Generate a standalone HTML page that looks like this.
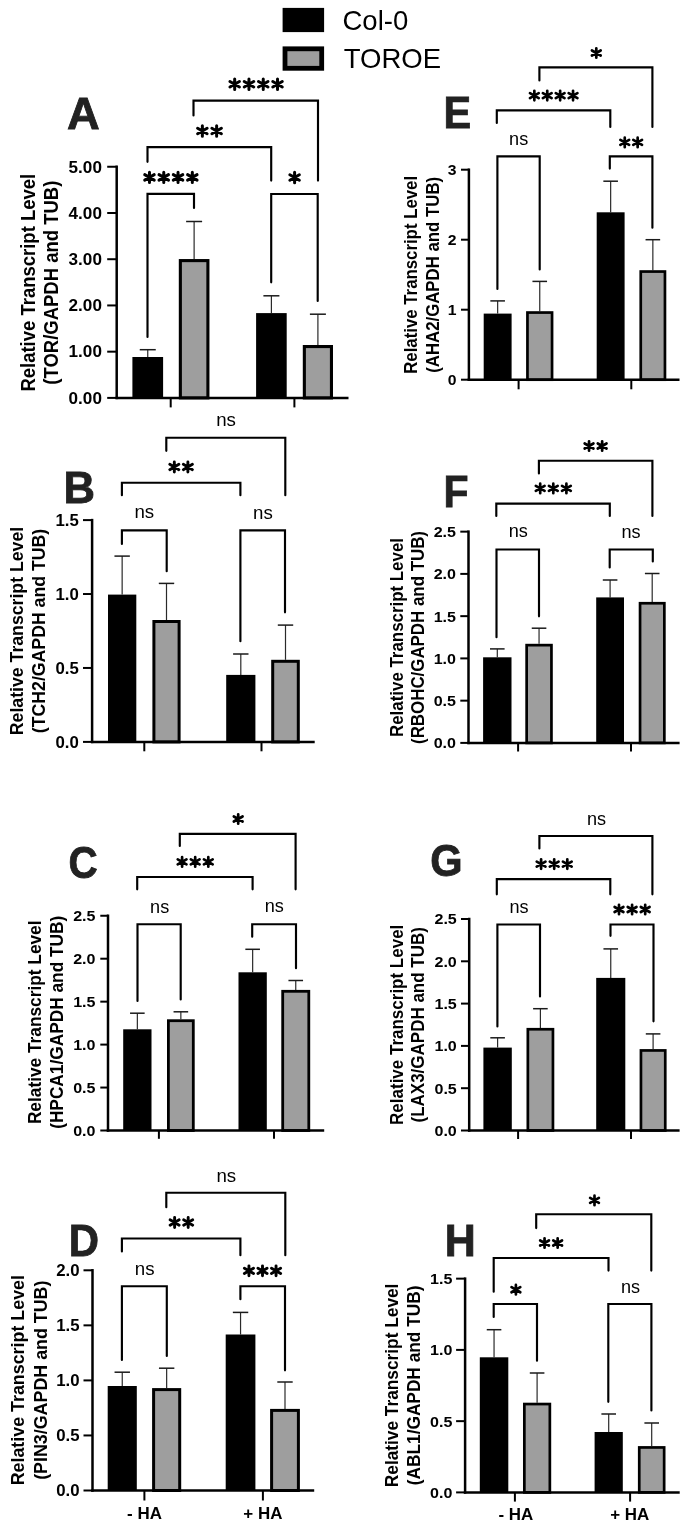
<!DOCTYPE html>
<html><head><meta charset="utf-8"><style>
html,body{margin:0;padding:0;background:#fff;width:685px;height:1528px;overflow:hidden}
svg{display:block;filter:grayscale(1)}
text{font-family:"Liberation Sans",sans-serif}
</style></head><body>
<svg width="685" height="1528" viewBox="0 0 685 1528">
<rect width="685" height="1528" fill="#fff"/>
<path d="M193.50,115.50V100.60H318.00V180.60" stroke="#000" stroke-width="2.15" fill="none" stroke-linejoin="miter" stroke-linecap="round"/>
<path d="M147.50,161.80V147.10H271.20V180.60" stroke="#000" stroke-width="2.15" fill="none" stroke-linejoin="miter" stroke-linecap="round"/>
<path d="M147.50,337.00V193.90H194.00V208.00" stroke="#000" stroke-width="2.15" fill="none" stroke-linejoin="miter" stroke-linecap="round"/>
<path d="M271.20,282.30V194.00H317.70V301.00" stroke="#000" stroke-width="2.15" fill="none" stroke-linejoin="miter" stroke-linecap="round"/>
<line x1="147.75" y1="357.00" x2="147.75" y2="349.70" stroke="#2a2a2a" stroke-width="1.2"/>
<line x1="139.75" y1="349.70" x2="155.75" y2="349.70" stroke="#1a1a1a" stroke-width="1.5"/>
<rect x="132.40" y="357.00" width="30.70" height="40.90" fill="#000"/>
<line x1="194.12" y1="259.05" x2="194.12" y2="221.50" stroke="#2a2a2a" stroke-width="1.2"/>
<line x1="186.12" y1="221.50" x2="202.12" y2="221.50" stroke="#1a1a1a" stroke-width="1.5"/>
<rect x="180.35" y="260.60" width="27.55" height="137.30" fill="#9e9e9e" stroke="#000" stroke-width="3.1"/>
<line x1="271.40" y1="313.10" x2="271.40" y2="295.80" stroke="#2a2a2a" stroke-width="1.2"/>
<line x1="263.40" y1="295.80" x2="279.40" y2="295.80" stroke="#1a1a1a" stroke-width="1.5"/>
<rect x="256.10" y="313.10" width="30.60" height="84.80" fill="#000"/>
<line x1="317.90" y1="345.00" x2="317.90" y2="314.20" stroke="#2a2a2a" stroke-width="1.2"/>
<line x1="309.90" y1="314.20" x2="325.90" y2="314.20" stroke="#1a1a1a" stroke-width="1.5"/>
<rect x="304.35" y="346.55" width="27.10" height="51.35" fill="#9e9e9e" stroke="#000" stroke-width="3.1"/>
<line x1="116.70" y1="165.50" x2="116.70" y2="399.15" stroke="#000" stroke-width="2.5"/>
<line x1="115.45" y1="397.90" x2="348.50" y2="397.90" stroke="#000" stroke-width="2.5"/>
<line x1="107.20" y1="397.90" x2="116.70" y2="397.90" stroke="#000" stroke-width="2.0"/>
<text x="0" y="0" font-size="16.3" font-weight="bold" text-anchor="end" transform="translate(101.90,403.69) scale(1.05,1)">0.00</text>
<line x1="107.20" y1="351.67" x2="116.70" y2="351.67" stroke="#000" stroke-width="2.0"/>
<text x="0" y="0" font-size="16.3" font-weight="bold" text-anchor="end" transform="translate(101.90,357.46) scale(1.05,1)">1.00</text>
<line x1="107.20" y1="305.44" x2="116.70" y2="305.44" stroke="#000" stroke-width="2.0"/>
<text x="0" y="0" font-size="16.3" font-weight="bold" text-anchor="end" transform="translate(101.90,311.23) scale(1.05,1)">2.00</text>
<line x1="107.20" y1="259.21" x2="116.70" y2="259.21" stroke="#000" stroke-width="2.0"/>
<text x="0" y="0" font-size="16.3" font-weight="bold" text-anchor="end" transform="translate(101.90,265.00) scale(1.05,1)">3.00</text>
<line x1="107.20" y1="212.98" x2="116.70" y2="212.98" stroke="#000" stroke-width="2.0"/>
<text x="0" y="0" font-size="16.3" font-weight="bold" text-anchor="end" transform="translate(101.90,218.77) scale(1.05,1)">4.00</text>
<line x1="107.20" y1="166.75" x2="116.70" y2="166.75" stroke="#000" stroke-width="2.0"/>
<text x="0" y="0" font-size="16.3" font-weight="bold" text-anchor="end" transform="translate(101.90,172.54) scale(1.05,1)">5.00</text>
<line x1="170.70" y1="397.90" x2="170.70" y2="407.40" stroke="#000" stroke-width="2.0"/>
<line x1="294.40" y1="397.90" x2="294.40" y2="407.40" stroke="#000" stroke-width="2.0"/>
<path d="M234.68,79.10V89.40M229.93,81.51L239.43,86.99M229.93,86.99L239.43,81.51" stroke="#000" stroke-width="3.0" stroke-linecap="round" fill="none"/>
<path d="M248.96,79.10V89.40M244.21,81.51L253.71,86.99M244.21,86.99L253.71,81.51" stroke="#000" stroke-width="3.0" stroke-linecap="round" fill="none"/>
<path d="M263.24,79.10V89.40M258.49,81.51L267.99,86.99M258.49,86.99L267.99,81.51" stroke="#000" stroke-width="3.0" stroke-linecap="round" fill="none"/>
<path d="M277.52,79.10V89.40M272.77,81.51L282.27,86.99M272.77,86.99L282.27,81.51" stroke="#000" stroke-width="3.0" stroke-linecap="round" fill="none"/>
<path d="M202.36,125.85V136.15M197.61,128.26L207.11,133.74M197.61,133.74L207.11,128.26" stroke="#000" stroke-width="3.0" stroke-linecap="round" fill="none"/>
<path d="M216.64,125.85V136.15M211.89,128.26L221.39,133.74M211.89,133.74L221.39,128.26" stroke="#000" stroke-width="3.0" stroke-linecap="round" fill="none"/>
<path d="M149.48,172.25V182.55M144.73,174.66L154.23,180.14M144.73,180.14L154.23,174.66" stroke="#000" stroke-width="3.0" stroke-linecap="round" fill="none"/>
<path d="M163.76,172.25V182.55M159.01,174.66L168.51,180.14M159.01,180.14L168.51,174.66" stroke="#000" stroke-width="3.0" stroke-linecap="round" fill="none"/>
<path d="M178.04,172.25V182.55M173.29,174.66L182.79,180.14M173.29,180.14L182.79,174.66" stroke="#000" stroke-width="3.0" stroke-linecap="round" fill="none"/>
<path d="M192.32,172.25V182.55M187.57,174.66L197.07,180.14M187.57,180.14L197.07,174.66" stroke="#000" stroke-width="3.0" stroke-linecap="round" fill="none"/>
<path d="M294.60,172.35V182.65M289.85,174.76L299.35,180.24M289.85,180.24L299.35,174.76" stroke="#000" stroke-width="3.0" stroke-linecap="round" fill="none"/>
<text x="0" y="0" font-size="44.3" font-weight="bold" fill="#222" stroke="#222" stroke-width="0.8" transform="translate(67.08,128.80) scale(1.023,1)">A</text>
<text x="0.00" y="0.00" font-size="18.5" font-weight="bold" text-anchor="middle" transform="translate(34.50,282.70) rotate(-90) scale(1,1.05)">Relative Transcript Level</text>
<text x="0.00" y="0.00" font-size="18.5" font-weight="bold" text-anchor="middle" transform="translate(57.70,282.70) rotate(-90) scale(1,1.05)">(TOR/GAPDH and TUB)</text>
<path d="M166.30,450.80V437.70H285.30V495.20" stroke="#000" stroke-width="2.15" fill="none" stroke-linejoin="miter" stroke-linecap="round"/>
<path d="M121.90,495.20V482.70H240.40V495.20" stroke="#000" stroke-width="2.15" fill="none" stroke-linejoin="miter" stroke-linecap="round"/>
<path d="M121.90,543.90V530.40H166.70V571.20" stroke="#000" stroke-width="2.15" fill="none" stroke-linejoin="miter" stroke-linecap="round"/>
<path d="M240.40,641.20V530.40H285.00V612.30" stroke="#000" stroke-width="2.15" fill="none" stroke-linejoin="miter" stroke-linecap="round"/>
<line x1="122.15" y1="594.60" x2="122.15" y2="556.10" stroke="#2a2a2a" stroke-width="1.2"/>
<line x1="114.45" y1="556.10" x2="129.85" y2="556.10" stroke="#1a1a1a" stroke-width="1.5"/>
<rect x="108.00" y="594.60" width="28.30" height="147.30" fill="#000"/>
<line x1="166.50" y1="620.00" x2="166.50" y2="583.40" stroke="#2a2a2a" stroke-width="1.2"/>
<line x1="158.80" y1="583.40" x2="174.20" y2="583.40" stroke="#1a1a1a" stroke-width="1.5"/>
<rect x="153.90" y="621.50" width="25.20" height="120.40" fill="#9e9e9e" stroke="#000" stroke-width="3.0"/>
<line x1="240.80" y1="674.90" x2="240.80" y2="654.00" stroke="#2a2a2a" stroke-width="1.2"/>
<line x1="233.10" y1="654.00" x2="248.50" y2="654.00" stroke="#1a1a1a" stroke-width="1.5"/>
<rect x="226.20" y="674.90" width="29.20" height="67.00" fill="#000"/>
<line x1="285.50" y1="659.80" x2="285.50" y2="625.10" stroke="#2a2a2a" stroke-width="1.2"/>
<line x1="277.80" y1="625.10" x2="293.20" y2="625.10" stroke="#1a1a1a" stroke-width="1.5"/>
<rect x="272.70" y="661.30" width="25.60" height="80.60" fill="#9e9e9e" stroke="#000" stroke-width="3.0"/>
<line x1="92.10" y1="518.85" x2="92.10" y2="743.15" stroke="#000" stroke-width="2.5"/>
<line x1="90.85" y1="741.90" x2="314.70" y2="741.90" stroke="#000" stroke-width="2.5"/>
<line x1="83.00" y1="741.90" x2="92.10" y2="741.90" stroke="#000" stroke-width="2.0"/>
<text x="0" y="0" font-size="16" font-weight="bold" text-anchor="end" transform="translate(78.80,747.58) scale(1.05,1)">0.0</text>
<line x1="83.00" y1="667.96" x2="92.10" y2="667.96" stroke="#000" stroke-width="2.0"/>
<text x="0" y="0" font-size="16" font-weight="bold" text-anchor="end" transform="translate(78.80,673.64) scale(1.05,1)">0.5</text>
<line x1="83.00" y1="594.03" x2="92.10" y2="594.03" stroke="#000" stroke-width="2.0"/>
<text x="0" y="0" font-size="16" font-weight="bold" text-anchor="end" transform="translate(78.80,599.71) scale(1.05,1)">1.0</text>
<line x1="83.00" y1="520.10" x2="92.10" y2="520.10" stroke="#000" stroke-width="2.0"/>
<text x="0" y="0" font-size="16" font-weight="bold" text-anchor="end" transform="translate(78.80,525.77) scale(1.05,1)">1.5</text>
<line x1="144.30" y1="741.90" x2="144.30" y2="751.30" stroke="#000" stroke-width="2.0"/>
<line x1="261.50" y1="741.90" x2="261.50" y2="751.30" stroke="#000" stroke-width="2.0"/>
<text x="226.10" y="426.30" font-size="18.7" font-weight="normal" text-anchor="middle" >ns</text>
<path d="M174.32,462.05V471.95M169.76,464.36L178.89,469.64M169.76,469.64L178.89,464.36" stroke="#000" stroke-width="2.9" stroke-linecap="round" fill="none"/>
<path d="M187.88,462.05V471.95M183.31,464.36L192.44,469.64M183.31,469.64L192.44,464.36" stroke="#000" stroke-width="2.9" stroke-linecap="round" fill="none"/>
<text x="144.25" y="518.40" font-size="18.7" font-weight="normal" text-anchor="middle" >ns</text>
<text x="262.90" y="518.50" font-size="18.7" font-weight="normal" text-anchor="middle" >ns</text>
<text x="0" y="0" font-size="44.3" font-weight="bold" fill="#222" stroke="#222" stroke-width="0.8" transform="translate(63.45,502.60) scale(0.985,1)">B</text>
<text x="0.00" y="0.00" font-size="17.7" font-weight="bold" text-anchor="middle" transform="translate(23.00,631.00) rotate(-90) scale(1,1.05)">Relative Transcript Level</text>
<text x="0.00" y="0.00" font-size="17.7" font-weight="bold" text-anchor="middle" transform="translate(45.00,631.00) rotate(-90) scale(1,1.05)">(TCH2/GAPDH and TUB)</text>
<path d="M179.80,845.90V833.90H295.60V889.30" stroke="#000" stroke-width="2.15" fill="none" stroke-linejoin="miter" stroke-linecap="round"/>
<path d="M137.20,889.30V877.00H252.60V889.30" stroke="#000" stroke-width="2.15" fill="none" stroke-linejoin="miter" stroke-linecap="round"/>
<path d="M137.50,1001.00V924.20H180.70V999.50" stroke="#000" stroke-width="2.15" fill="none" stroke-linejoin="miter" stroke-linecap="round"/>
<path d="M252.20,936.70V924.20H296.00V968.20" stroke="#000" stroke-width="2.15" fill="none" stroke-linejoin="miter" stroke-linecap="round"/>
<line x1="137.35" y1="1029.30" x2="137.35" y2="1013.20" stroke="#2a2a2a" stroke-width="1.2"/>
<line x1="130.05" y1="1013.20" x2="144.65" y2="1013.20" stroke="#1a1a1a" stroke-width="1.5"/>
<rect x="123.20" y="1029.30" width="28.30" height="101.20" fill="#000"/>
<line x1="180.85" y1="1019.30" x2="180.85" y2="1011.80" stroke="#2a2a2a" stroke-width="1.2"/>
<line x1="173.55" y1="1011.80" x2="188.15" y2="1011.80" stroke="#1a1a1a" stroke-width="1.5"/>
<rect x="168.40" y="1020.70" width="24.90" height="109.80" fill="#9e9e9e" stroke="#000" stroke-width="2.8"/>
<line x1="252.65" y1="972.30" x2="252.65" y2="949.30" stroke="#2a2a2a" stroke-width="1.2"/>
<line x1="245.35" y1="949.30" x2="259.95" y2="949.30" stroke="#1a1a1a" stroke-width="1.5"/>
<rect x="238.50" y="972.30" width="28.30" height="158.20" fill="#000"/>
<line x1="295.75" y1="989.90" x2="295.75" y2="980.50" stroke="#2a2a2a" stroke-width="1.2"/>
<line x1="288.45" y1="980.50" x2="303.05" y2="980.50" stroke="#1a1a1a" stroke-width="1.5"/>
<rect x="282.70" y="991.30" width="26.10" height="139.20" fill="#9e9e9e" stroke="#000" stroke-width="2.8"/>
<line x1="108.00" y1="914.50" x2="108.00" y2="1131.75" stroke="#000" stroke-width="2.5"/>
<line x1="106.75" y1="1130.50" x2="324.20" y2="1130.50" stroke="#000" stroke-width="2.5"/>
<line x1="100.30" y1="1130.50" x2="108.00" y2="1130.50" stroke="#000" stroke-width="2.0"/>
<text x="0" y="0" font-size="15.3" font-weight="bold" text-anchor="end" transform="translate(95.50,1135.93) scale(1.05,1)">0.0</text>
<line x1="100.30" y1="1087.55" x2="108.00" y2="1087.55" stroke="#000" stroke-width="2.0"/>
<text x="0" y="0" font-size="15.3" font-weight="bold" text-anchor="end" transform="translate(95.50,1092.98) scale(1.05,1)">0.5</text>
<line x1="100.30" y1="1044.60" x2="108.00" y2="1044.60" stroke="#000" stroke-width="2.0"/>
<text x="0" y="0" font-size="15.3" font-weight="bold" text-anchor="end" transform="translate(95.50,1050.03) scale(1.05,1)">1.0</text>
<line x1="100.30" y1="1001.65" x2="108.00" y2="1001.65" stroke="#000" stroke-width="2.0"/>
<text x="0" y="0" font-size="15.3" font-weight="bold" text-anchor="end" transform="translate(95.50,1007.08) scale(1.05,1)">1.5</text>
<line x1="100.30" y1="958.70" x2="108.00" y2="958.70" stroke="#000" stroke-width="2.0"/>
<text x="0" y="0" font-size="15.3" font-weight="bold" text-anchor="end" transform="translate(95.50,964.13) scale(1.05,1)">2.0</text>
<line x1="100.30" y1="915.75" x2="108.00" y2="915.75" stroke="#000" stroke-width="2.0"/>
<text x="0" y="0" font-size="15.3" font-weight="bold" text-anchor="end" transform="translate(95.50,921.18) scale(1.05,1)">2.5</text>
<line x1="158.90" y1="1130.50" x2="158.90" y2="1138.80" stroke="#000" stroke-width="2.0"/>
<line x1="274.00" y1="1130.50" x2="274.00" y2="1138.80" stroke="#000" stroke-width="2.0"/>
<path d="M238.20,814.25V823.75M233.82,816.47L242.58,821.53M233.82,821.53L242.58,816.47" stroke="#000" stroke-width="2.7" stroke-linecap="round" fill="none"/>
<path d="M182.10,857.15V866.65M177.72,859.37L186.48,864.43M177.72,864.43L186.48,859.37" stroke="#000" stroke-width="2.7" stroke-linecap="round" fill="none"/>
<path d="M195.20,857.15V866.65M190.82,859.37L199.58,864.43M190.82,864.43L199.58,859.37" stroke="#000" stroke-width="2.7" stroke-linecap="round" fill="none"/>
<path d="M208.30,857.15V866.65M203.92,859.37L212.68,864.43M203.92,864.43L212.68,859.37" stroke="#000" stroke-width="2.7" stroke-linecap="round" fill="none"/>
<text x="159.65" y="912.50" font-size="18.1" font-weight="normal" text-anchor="middle" >ns</text>
<text x="274.30" y="911.90" font-size="18.1" font-weight="normal" text-anchor="middle" >ns</text>
<text x="0" y="0" font-size="44.3" font-weight="bold" fill="#222" stroke="#222" stroke-width="0.8" transform="translate(68.59,878.00) scale(0.913,1)">C</text>
<text x="0.00" y="0.00" font-size="17.3" font-weight="bold" text-anchor="middle" transform="translate(41.00,1022.30) rotate(-90) scale(1,1.05)">Relative Transcript Level</text>
<text x="0.00" y="0.00" font-size="17.3" font-weight="bold" text-anchor="middle" transform="translate(63.00,1022.30) rotate(-90) scale(1,1.05)">(HPCA1/GAPDH and TUB)</text>
<path d="M166.30,1207.20V1192.70H285.30V1255.20" stroke="#000" stroke-width="2.15" fill="none" stroke-linejoin="miter" stroke-linecap="round"/>
<path d="M121.90,1251.50V1238.50H240.40V1255.20" stroke="#000" stroke-width="2.15" fill="none" stroke-linejoin="miter" stroke-linecap="round"/>
<path d="M121.90,1359.90V1286.20H166.80V1355.90" stroke="#000" stroke-width="2.15" fill="none" stroke-linejoin="miter" stroke-linecap="round"/>
<path d="M240.40,1299.20V1286.20H285.00V1370.30" stroke="#000" stroke-width="2.15" fill="none" stroke-linejoin="miter" stroke-linecap="round"/>
<line x1="122.25" y1="1386.00" x2="122.25" y2="1372.20" stroke="#2a2a2a" stroke-width="1.2"/>
<line x1="114.55" y1="1372.20" x2="129.95" y2="1372.20" stroke="#1a1a1a" stroke-width="1.5"/>
<rect x="107.70" y="1386.00" width="29.10" height="104.50" fill="#000"/>
<line x1="166.65" y1="1388.10" x2="166.65" y2="1368.20" stroke="#2a2a2a" stroke-width="1.2"/>
<line x1="158.95" y1="1368.20" x2="174.35" y2="1368.20" stroke="#1a1a1a" stroke-width="1.5"/>
<rect x="153.60" y="1389.60" width="26.10" height="100.90" fill="#9e9e9e" stroke="#000" stroke-width="3.0"/>
<line x1="240.55" y1="1334.50" x2="240.55" y2="1312.40" stroke="#2a2a2a" stroke-width="1.2"/>
<line x1="232.85" y1="1312.40" x2="248.25" y2="1312.40" stroke="#1a1a1a" stroke-width="1.5"/>
<rect x="225.70" y="1334.50" width="29.70" height="156.00" fill="#000"/>
<line x1="285.00" y1="1408.90" x2="285.00" y2="1382.00" stroke="#2a2a2a" stroke-width="1.2"/>
<line x1="277.30" y1="1382.00" x2="292.70" y2="1382.00" stroke="#1a1a1a" stroke-width="1.5"/>
<rect x="271.60" y="1410.40" width="26.80" height="80.10" fill="#9e9e9e" stroke="#000" stroke-width="3.0"/>
<line x1="92.50" y1="1269.05" x2="92.50" y2="1491.75" stroke="#000" stroke-width="2.5"/>
<line x1="91.25" y1="1490.50" x2="314.20" y2="1490.50" stroke="#000" stroke-width="2.5"/>
<line x1="83.50" y1="1490.50" x2="92.50" y2="1490.50" stroke="#000" stroke-width="2.0"/>
<text x="0" y="0" font-size="16" font-weight="bold" text-anchor="end" transform="translate(79.50,1496.18) scale(1.05,1)">0.0</text>
<line x1="83.50" y1="1435.45" x2="92.50" y2="1435.45" stroke="#000" stroke-width="2.0"/>
<text x="0" y="0" font-size="16" font-weight="bold" text-anchor="end" transform="translate(79.50,1441.13) scale(1.05,1)">0.5</text>
<line x1="83.50" y1="1380.40" x2="92.50" y2="1380.40" stroke="#000" stroke-width="2.0"/>
<text x="0" y="0" font-size="16" font-weight="bold" text-anchor="end" transform="translate(79.50,1386.08) scale(1.05,1)">1.0</text>
<line x1="83.50" y1="1325.35" x2="92.50" y2="1325.35" stroke="#000" stroke-width="2.0"/>
<text x="0" y="0" font-size="16" font-weight="bold" text-anchor="end" transform="translate(79.50,1331.03) scale(1.05,1)">1.5</text>
<line x1="83.50" y1="1270.30" x2="92.50" y2="1270.30" stroke="#000" stroke-width="2.0"/>
<text x="0" y="0" font-size="16" font-weight="bold" text-anchor="end" transform="translate(79.50,1275.98) scale(1.05,1)">2.0</text>
<line x1="144.40" y1="1490.50" x2="144.40" y2="1500.50" stroke="#000" stroke-width="2.0"/>
<line x1="262.90" y1="1490.50" x2="262.90" y2="1500.50" stroke="#000" stroke-width="2.0"/>
<text x="226.25" y="1182.10" font-size="18.7" font-weight="normal" text-anchor="middle" >ns</text>
<path d="M174.62,1217.55V1227.45M170.06,1219.86L179.19,1225.14M170.06,1225.14L179.19,1219.86" stroke="#000" stroke-width="2.9" stroke-linecap="round" fill="none"/>
<path d="M188.18,1217.55V1227.45M183.61,1219.86L192.74,1225.14M183.61,1225.14L192.74,1219.86" stroke="#000" stroke-width="2.9" stroke-linecap="round" fill="none"/>
<text x="144.70" y="1274.60" font-size="18.7" font-weight="normal" text-anchor="middle" >ns</text>
<path d="M248.95,1265.85V1275.75M244.38,1268.16L253.52,1273.44M244.38,1273.44L253.52,1268.16" stroke="#000" stroke-width="2.9" stroke-linecap="round" fill="none"/>
<path d="M262.50,1265.85V1275.75M257.93,1268.16L267.07,1273.44M257.93,1273.44L267.07,1268.16" stroke="#000" stroke-width="2.9" stroke-linecap="round" fill="none"/>
<path d="M276.05,1265.85V1275.75M271.48,1268.16L280.62,1273.44M271.48,1273.44L280.62,1268.16" stroke="#000" stroke-width="2.9" stroke-linecap="round" fill="none"/>
<text x="0" y="0" font-size="44.3" font-weight="bold" fill="#222" stroke="#222" stroke-width="0.8" transform="translate(68.66,1255.90) scale(0.946,1)">D</text>
<text x="0.00" y="0.00" font-size="17.85" font-weight="bold" text-anchor="middle" transform="translate(23.50,1380.20) rotate(-90) scale(1,1.05)">Relative Transcript Level</text>
<text x="0.00" y="0.00" font-size="17.85" font-weight="bold" text-anchor="middle" transform="translate(47.30,1380.20) rotate(-90) scale(1,1.05)">(PIN3/GAPDH and TUB)</text>
<text x="0" y="0" font-size="16" font-weight="bold" text-anchor="middle" transform="translate(144.50,1519.30) scale(1.06,1)">- HA</text>
<text x="0" y="0" font-size="16" font-weight="bold" text-anchor="middle" transform="translate(262.90,1519.30) scale(1.06,1)">+ HA</text>
<path d="M539.40,80.50V67.30H652.40V127.00" stroke="#000" stroke-width="2.15" fill="none" stroke-linejoin="miter" stroke-linecap="round"/>
<path d="M496.80,123.00V110.40H610.30V127.00" stroke="#000" stroke-width="2.15" fill="none" stroke-linejoin="miter" stroke-linecap="round"/>
<path d="M497.40,288.90V156.30H539.70V269.50" stroke="#000" stroke-width="2.15" fill="none" stroke-linejoin="miter" stroke-linecap="round"/>
<path d="M609.80,168.60V156.30H652.40V227.70" stroke="#000" stroke-width="2.15" fill="none" stroke-linejoin="miter" stroke-linecap="round"/>
<line x1="497.65" y1="313.60" x2="497.65" y2="300.90" stroke="#2a2a2a" stroke-width="1.2"/>
<line x1="490.35" y1="300.90" x2="504.95" y2="300.90" stroke="#1a1a1a" stroke-width="1.5"/>
<rect x="483.70" y="313.60" width="27.90" height="66.10" fill="#000"/>
<line x1="539.75" y1="311.20" x2="539.75" y2="281.40" stroke="#2a2a2a" stroke-width="1.2"/>
<line x1="532.45" y1="281.40" x2="547.05" y2="281.40" stroke="#1a1a1a" stroke-width="1.5"/>
<rect x="527.45" y="312.55" width="24.60" height="67.15" fill="#9e9e9e" stroke="#000" stroke-width="2.7"/>
<line x1="610.65" y1="212.30" x2="610.65" y2="181.20" stroke="#2a2a2a" stroke-width="1.2"/>
<line x1="603.35" y1="181.20" x2="617.95" y2="181.20" stroke="#1a1a1a" stroke-width="1.5"/>
<rect x="596.70" y="212.30" width="27.90" height="167.40" fill="#000"/>
<line x1="652.85" y1="270.20" x2="652.85" y2="239.70" stroke="#2a2a2a" stroke-width="1.2"/>
<line x1="645.55" y1="239.70" x2="660.15" y2="239.70" stroke="#1a1a1a" stroke-width="1.5"/>
<rect x="640.75" y="271.55" width="24.20" height="108.15" fill="#9e9e9e" stroke="#000" stroke-width="2.7"/>
<line x1="468.90" y1="168.45" x2="468.90" y2="380.95" stroke="#000" stroke-width="2.5"/>
<line x1="467.65" y1="379.70" x2="679.50" y2="379.70" stroke="#000" stroke-width="2.5"/>
<line x1="461.00" y1="379.70" x2="468.90" y2="379.70" stroke="#000" stroke-width="2.0"/>
<text x="0" y="0" font-size="15" font-weight="bold" text-anchor="end" transform="translate(456.60,385.02) scale(1.05,1)">0</text>
<line x1="461.00" y1="309.70" x2="468.90" y2="309.70" stroke="#000" stroke-width="2.0"/>
<text x="0" y="0" font-size="15" font-weight="bold" text-anchor="end" transform="translate(456.60,315.02) scale(1.05,1)">1</text>
<line x1="461.00" y1="239.70" x2="468.90" y2="239.70" stroke="#000" stroke-width="2.0"/>
<text x="0" y="0" font-size="15" font-weight="bold" text-anchor="end" transform="translate(456.60,245.02) scale(1.05,1)">2</text>
<line x1="461.00" y1="169.70" x2="468.90" y2="169.70" stroke="#000" stroke-width="2.0"/>
<text x="0" y="0" font-size="15" font-weight="bold" text-anchor="end" transform="translate(456.60,175.02) scale(1.05,1)">3</text>
<line x1="518.60" y1="379.70" x2="518.60" y2="389.30" stroke="#000" stroke-width="2.0"/>
<line x1="631.30" y1="379.70" x2="631.30" y2="389.30" stroke="#000" stroke-width="2.0"/>
<path d="M596.30,48.25V57.75M591.92,50.47L600.68,55.53M591.92,55.53L600.68,50.47" stroke="#000" stroke-width="2.7" stroke-linecap="round" fill="none"/>
<path d="M534.35,90.85V100.35M529.97,93.07L538.73,98.13M529.97,98.13L538.73,93.07" stroke="#000" stroke-width="2.7" stroke-linecap="round" fill="none"/>
<path d="M547.25,90.85V100.35M542.87,93.07L551.63,98.13M542.87,98.13L551.63,93.07" stroke="#000" stroke-width="2.7" stroke-linecap="round" fill="none"/>
<path d="M560.15,90.85V100.35M555.77,93.07L564.53,98.13M555.77,98.13L564.53,93.07" stroke="#000" stroke-width="2.7" stroke-linecap="round" fill="none"/>
<path d="M573.05,90.85V100.35M568.67,93.07L577.43,98.13M568.67,98.13L577.43,93.07" stroke="#000" stroke-width="2.7" stroke-linecap="round" fill="none"/>
<text x="518.65" y="144.80" font-size="18.1" font-weight="normal" text-anchor="middle" >ns</text>
<path d="M624.75,137.65V147.15M620.37,139.87L629.13,144.93M620.37,144.93L629.13,139.87" stroke="#000" stroke-width="2.7" stroke-linecap="round" fill="none"/>
<path d="M637.65,137.65V147.15M633.27,139.87L642.03,144.93M633.27,144.93L642.03,139.87" stroke="#000" stroke-width="2.7" stroke-linecap="round" fill="none"/>
<text x="0" y="0" font-size="44.3" font-weight="bold" fill="#222" stroke="#222" stroke-width="0.8" transform="translate(443.39,127.50) scale(0.936,1)">E</text>
<text x="0.00" y="0.00" font-size="16.8" font-weight="bold" text-anchor="middle" transform="translate(417.00,274.85) rotate(-90) scale(1,1.05)">Relative Transcript Level</text>
<text x="0.00" y="0.00" font-size="16.8" font-weight="bold" text-anchor="middle" transform="translate(439.00,274.85) rotate(-90) scale(1,1.05)">(AHA2/GAPDH and TUB)</text>
<path d="M538.90,473.40V460.70H652.40V515.90" stroke="#000" stroke-width="2.15" fill="none" stroke-linejoin="miter" stroke-linecap="round"/>
<path d="M496.30,515.90V503.60H609.80V515.90" stroke="#000" stroke-width="2.15" fill="none" stroke-linejoin="miter" stroke-linecap="round"/>
<path d="M496.50,637.20V549.50H539.00V616.30" stroke="#000" stroke-width="2.15" fill="none" stroke-linejoin="miter" stroke-linecap="round"/>
<path d="M609.70,567.50V549.50H652.80V561.50" stroke="#000" stroke-width="2.15" fill="none" stroke-linejoin="miter" stroke-linecap="round"/>
<line x1="497.30" y1="657.30" x2="497.30" y2="648.90" stroke="#2a2a2a" stroke-width="1.2"/>
<line x1="490.00" y1="648.90" x2="504.60" y2="648.90" stroke="#1a1a1a" stroke-width="1.5"/>
<rect x="483.10" y="657.30" width="28.40" height="85.60" fill="#000"/>
<line x1="539.05" y1="643.80" x2="539.05" y2="628.20" stroke="#2a2a2a" stroke-width="1.2"/>
<line x1="531.75" y1="628.20" x2="546.35" y2="628.20" stroke="#1a1a1a" stroke-width="1.5"/>
<rect x="526.65" y="645.15" width="24.80" height="97.75" fill="#9e9e9e" stroke="#000" stroke-width="2.7"/>
<line x1="610.10" y1="597.40" x2="610.10" y2="580.00" stroke="#2a2a2a" stroke-width="1.2"/>
<line x1="602.80" y1="580.00" x2="617.40" y2="580.00" stroke="#1a1a1a" stroke-width="1.5"/>
<rect x="596.20" y="597.40" width="27.80" height="145.50" fill="#000"/>
<line x1="652.20" y1="601.90" x2="652.20" y2="573.50" stroke="#2a2a2a" stroke-width="1.2"/>
<line x1="644.90" y1="573.50" x2="659.50" y2="573.50" stroke="#1a1a1a" stroke-width="1.5"/>
<rect x="640.05" y="603.25" width="24.30" height="139.65" fill="#9e9e9e" stroke="#000" stroke-width="2.7"/>
<line x1="468.50" y1="530.40" x2="468.50" y2="744.15" stroke="#000" stroke-width="2.5"/>
<line x1="467.25" y1="742.90" x2="679.60" y2="742.90" stroke="#000" stroke-width="2.5"/>
<line x1="460.30" y1="742.90" x2="468.50" y2="742.90" stroke="#000" stroke-width="2.0"/>
<text x="0" y="0" font-size="15.3" font-weight="bold" text-anchor="end" transform="translate(456.00,748.33) scale(1.05,1)">0.0</text>
<line x1="460.30" y1="700.65" x2="468.50" y2="700.65" stroke="#000" stroke-width="2.0"/>
<text x="0" y="0" font-size="15.3" font-weight="bold" text-anchor="end" transform="translate(456.00,706.08) scale(1.05,1)">0.5</text>
<line x1="460.30" y1="658.40" x2="468.50" y2="658.40" stroke="#000" stroke-width="2.0"/>
<text x="0" y="0" font-size="15.3" font-weight="bold" text-anchor="end" transform="translate(456.00,663.83) scale(1.05,1)">1.0</text>
<line x1="460.30" y1="616.15" x2="468.50" y2="616.15" stroke="#000" stroke-width="2.0"/>
<text x="0" y="0" font-size="15.3" font-weight="bold" text-anchor="end" transform="translate(456.00,621.58) scale(1.05,1)">1.5</text>
<line x1="460.30" y1="573.90" x2="468.50" y2="573.90" stroke="#000" stroke-width="2.0"/>
<text x="0" y="0" font-size="15.3" font-weight="bold" text-anchor="end" transform="translate(456.00,579.33) scale(1.05,1)">2.0</text>
<line x1="460.30" y1="531.65" x2="468.50" y2="531.65" stroke="#000" stroke-width="2.0"/>
<text x="0" y="0" font-size="15.3" font-weight="bold" text-anchor="end" transform="translate(456.00,537.08) scale(1.05,1)">2.5</text>
<line x1="518.10" y1="742.90" x2="518.10" y2="751.50" stroke="#000" stroke-width="2.0"/>
<line x1="631.00" y1="742.90" x2="631.00" y2="751.50" stroke="#000" stroke-width="2.0"/>
<path d="M589.05,441.25V450.75M584.67,443.47L593.43,448.53M584.67,448.53L593.43,443.47" stroke="#000" stroke-width="2.7" stroke-linecap="round" fill="none"/>
<path d="M602.15,441.25V450.75M597.77,443.47L606.53,448.53M597.77,448.53L606.53,443.47" stroke="#000" stroke-width="2.7" stroke-linecap="round" fill="none"/>
<path d="M540.20,483.65V493.15M535.82,485.87L544.58,490.93M535.82,490.93L544.58,485.87" stroke="#000" stroke-width="2.7" stroke-linecap="round" fill="none"/>
<path d="M553.30,483.65V493.15M548.92,485.87L557.68,490.93M548.92,490.93L557.68,485.87" stroke="#000" stroke-width="2.7" stroke-linecap="round" fill="none"/>
<path d="M566.40,483.65V493.15M562.02,485.87L570.78,490.93M562.02,490.93L570.78,485.87" stroke="#000" stroke-width="2.7" stroke-linecap="round" fill="none"/>
<text x="518.20" y="537.40" font-size="18.1" font-weight="normal" text-anchor="middle" >ns</text>
<text x="631.00" y="537.80" font-size="18.1" font-weight="normal" text-anchor="middle" >ns</text>
<text x="0" y="0" font-size="44.3" font-weight="bold" fill="#222" stroke="#222" stroke-width="0.8" transform="translate(443.42,506.60) scale(0.926,1)">F</text>
<text x="0.00" y="0.00" font-size="16.9" font-weight="bold" text-anchor="middle" transform="translate(403.00,637.50) rotate(-90) scale(1,1.05)">Relative Transcript Level</text>
<text x="0.00" y="0.00" font-size="16.9" font-weight="bold" text-anchor="middle" transform="translate(423.50,637.50) rotate(-90) scale(1,1.05)">(RBOHC/GAPDH and TUB)</text>
<path d="M539.40,848.40V836.00H652.40V894.30" stroke="#000" stroke-width="2.15" fill="none" stroke-linejoin="miter" stroke-linecap="round"/>
<path d="M496.80,894.30V879.10H610.30V894.30" stroke="#000" stroke-width="2.15" fill="none" stroke-linejoin="miter" stroke-linecap="round"/>
<path d="M497.40,1026.40V924.50H540.00V996.40" stroke="#000" stroke-width="2.15" fill="none" stroke-linejoin="miter" stroke-linecap="round"/>
<path d="M610.50,935.80V924.50H653.50V1021.30" stroke="#000" stroke-width="2.15" fill="none" stroke-linejoin="miter" stroke-linecap="round"/>
<line x1="497.60" y1="1047.60" x2="497.60" y2="1037.80" stroke="#2a2a2a" stroke-width="1.2"/>
<line x1="490.30" y1="1037.80" x2="504.90" y2="1037.80" stroke="#1a1a1a" stroke-width="1.5"/>
<rect x="483.40" y="1047.60" width="28.40" height="82.90" fill="#000"/>
<line x1="540.40" y1="1027.90" x2="540.40" y2="1008.70" stroke="#2a2a2a" stroke-width="1.2"/>
<line x1="533.10" y1="1008.70" x2="547.70" y2="1008.70" stroke="#1a1a1a" stroke-width="1.5"/>
<rect x="527.85" y="1029.25" width="25.10" height="101.25" fill="#9e9e9e" stroke="#000" stroke-width="2.7"/>
<line x1="610.75" y1="977.90" x2="610.75" y2="948.90" stroke="#2a2a2a" stroke-width="1.2"/>
<line x1="603.45" y1="948.90" x2="618.05" y2="948.90" stroke="#1a1a1a" stroke-width="1.5"/>
<rect x="596.20" y="977.90" width="29.10" height="152.60" fill="#000"/>
<line x1="653.10" y1="1049.10" x2="653.10" y2="1033.90" stroke="#2a2a2a" stroke-width="1.2"/>
<line x1="645.80" y1="1033.90" x2="660.40" y2="1033.90" stroke="#1a1a1a" stroke-width="1.5"/>
<rect x="640.95" y="1050.45" width="24.30" height="80.05" fill="#9e9e9e" stroke="#000" stroke-width="2.7"/>
<line x1="469.20" y1="917.75" x2="469.20" y2="1131.75" stroke="#000" stroke-width="2.5"/>
<line x1="467.95" y1="1130.50" x2="679.60" y2="1130.50" stroke="#000" stroke-width="2.5"/>
<line x1="461.00" y1="1130.50" x2="469.20" y2="1130.50" stroke="#000" stroke-width="2.0"/>
<text x="0" y="0" font-size="15.3" font-weight="bold" text-anchor="end" transform="translate(456.80,1135.93) scale(1.05,1)">0.0</text>
<line x1="461.00" y1="1088.20" x2="469.20" y2="1088.20" stroke="#000" stroke-width="2.0"/>
<text x="0" y="0" font-size="15.3" font-weight="bold" text-anchor="end" transform="translate(456.80,1093.63) scale(1.05,1)">0.5</text>
<line x1="461.00" y1="1045.90" x2="469.20" y2="1045.90" stroke="#000" stroke-width="2.0"/>
<text x="0" y="0" font-size="15.3" font-weight="bold" text-anchor="end" transform="translate(456.80,1051.33) scale(1.05,1)">1.0</text>
<line x1="461.00" y1="1003.60" x2="469.20" y2="1003.60" stroke="#000" stroke-width="2.0"/>
<text x="0" y="0" font-size="15.3" font-weight="bold" text-anchor="end" transform="translate(456.80,1009.03) scale(1.05,1)">1.5</text>
<line x1="461.00" y1="961.30" x2="469.20" y2="961.30" stroke="#000" stroke-width="2.0"/>
<text x="0" y="0" font-size="15.3" font-weight="bold" text-anchor="end" transform="translate(456.80,966.73) scale(1.05,1)">2.0</text>
<line x1="461.00" y1="919.00" x2="469.20" y2="919.00" stroke="#000" stroke-width="2.0"/>
<text x="0" y="0" font-size="15.3" font-weight="bold" text-anchor="end" transform="translate(456.80,924.43) scale(1.05,1)">2.5</text>
<line x1="518.10" y1="1130.50" x2="518.10" y2="1139.00" stroke="#000" stroke-width="2.0"/>
<line x1="631.00" y1="1130.50" x2="631.00" y2="1139.00" stroke="#000" stroke-width="2.0"/>
<text x="596.55" y="824.60" font-size="18.1" font-weight="normal" text-anchor="middle" >ns</text>
<path d="M541.10,859.35V868.85M536.72,861.57L545.48,866.63M536.72,866.63L545.48,861.57" stroke="#000" stroke-width="2.7" stroke-linecap="round" fill="none"/>
<path d="M554.20,859.35V868.85M549.82,861.57L558.58,866.63M549.82,866.63L558.58,861.57" stroke="#000" stroke-width="2.7" stroke-linecap="round" fill="none"/>
<path d="M567.30,859.35V868.85M562.92,861.57L571.68,866.63M562.92,866.63L571.68,861.57" stroke="#000" stroke-width="2.7" stroke-linecap="round" fill="none"/>
<text x="519.05" y="912.70" font-size="18.1" font-weight="normal" text-anchor="middle" >ns</text>
<path d="M619.00,904.75V914.25M614.62,906.97L623.38,912.03M614.62,912.03L623.38,906.97" stroke="#000" stroke-width="2.7" stroke-linecap="round" fill="none"/>
<path d="M632.10,904.75V914.25M627.72,906.97L636.48,912.03M627.72,912.03L636.48,906.97" stroke="#000" stroke-width="2.7" stroke-linecap="round" fill="none"/>
<path d="M645.20,904.75V914.25M640.82,906.97L649.58,912.03M640.82,912.03L649.58,906.97" stroke="#000" stroke-width="2.7" stroke-linecap="round" fill="none"/>
<text x="0" y="0" font-size="44.3" font-weight="bold" fill="#222" stroke="#222" stroke-width="0.8" transform="translate(430.26,875.60) scale(0.939,1)">G</text>
<text x="0.00" y="0.00" font-size="17.0" font-weight="bold" text-anchor="middle" transform="translate(403.00,1024.80) rotate(-90) scale(1,1.05)">Relative Transcript Level</text>
<text x="0.00" y="0.00" font-size="17.0" font-weight="bold" text-anchor="middle" transform="translate(423.50,1024.80) rotate(-90) scale(1,1.05)">(LAX3/GAPDH and TUB)</text>
<path d="M536.20,1228.10V1214.20H651.30V1270.60" stroke="#000" stroke-width="2.15" fill="none" stroke-linejoin="miter" stroke-linecap="round"/>
<path d="M493.70,1291.70V1258.00H608.50V1270.60" stroke="#000" stroke-width="2.15" fill="none" stroke-linejoin="miter" stroke-linecap="round"/>
<path d="M493.70,1316.90V1304.00H537.00V1360.70" stroke="#000" stroke-width="2.15" fill="none" stroke-linejoin="miter" stroke-linecap="round"/>
<path d="M608.30,1401.80V1304.00H651.40V1410.40" stroke="#000" stroke-width="2.15" fill="none" stroke-linejoin="miter" stroke-linecap="round"/>
<line x1="494.05" y1="1357.30" x2="494.05" y2="1329.70" stroke="#2a2a2a" stroke-width="1.2"/>
<line x1="486.75" y1="1329.70" x2="501.35" y2="1329.70" stroke="#1a1a1a" stroke-width="1.5"/>
<rect x="479.80" y="1357.30" width="28.50" height="135.10" fill="#000"/>
<line x1="537.10" y1="1402.70" x2="537.10" y2="1373.00" stroke="#2a2a2a" stroke-width="1.2"/>
<line x1="529.80" y1="1373.00" x2="544.40" y2="1373.00" stroke="#1a1a1a" stroke-width="1.5"/>
<rect x="524.35" y="1404.05" width="25.50" height="88.35" fill="#9e9e9e" stroke="#000" stroke-width="2.7"/>
<line x1="608.70" y1="1432.00" x2="608.70" y2="1414.00" stroke="#2a2a2a" stroke-width="1.2"/>
<line x1="601.40" y1="1414.00" x2="616.00" y2="1414.00" stroke="#1a1a1a" stroke-width="1.5"/>
<rect x="594.60" y="1432.00" width="28.20" height="60.40" fill="#000"/>
<line x1="651.70" y1="1446.10" x2="651.70" y2="1423.00" stroke="#2a2a2a" stroke-width="1.2"/>
<line x1="644.40" y1="1423.00" x2="659.00" y2="1423.00" stroke="#1a1a1a" stroke-width="1.5"/>
<rect x="639.25" y="1447.45" width="24.90" height="44.95" fill="#9e9e9e" stroke="#000" stroke-width="2.7"/>
<line x1="465.10" y1="1277.40" x2="465.10" y2="1493.65" stroke="#000" stroke-width="2.5"/>
<line x1="463.85" y1="1492.40" x2="679.70" y2="1492.40" stroke="#000" stroke-width="2.5"/>
<line x1="456.10" y1="1492.40" x2="465.10" y2="1492.40" stroke="#000" stroke-width="2.0"/>
<text x="0" y="0" font-size="15.3" font-weight="bold" text-anchor="end" transform="translate(452.40,1497.83) scale(1.05,1)">0.0</text>
<line x1="456.10" y1="1421.15" x2="465.10" y2="1421.15" stroke="#000" stroke-width="2.0"/>
<text x="0" y="0" font-size="15.3" font-weight="bold" text-anchor="end" transform="translate(452.40,1426.58) scale(1.05,1)">0.5</text>
<line x1="456.10" y1="1349.90" x2="465.10" y2="1349.90" stroke="#000" stroke-width="2.0"/>
<text x="0" y="0" font-size="15.3" font-weight="bold" text-anchor="end" transform="translate(452.40,1355.33) scale(1.05,1)">1.0</text>
<line x1="456.10" y1="1278.65" x2="465.10" y2="1278.65" stroke="#000" stroke-width="2.0"/>
<text x="0" y="0" font-size="15.3" font-weight="bold" text-anchor="end" transform="translate(452.40,1284.08) scale(1.05,1)">1.5</text>
<line x1="514.90" y1="1492.40" x2="514.90" y2="1501.60" stroke="#000" stroke-width="2.0"/>
<line x1="630.10" y1="1492.40" x2="630.10" y2="1501.60" stroke="#000" stroke-width="2.0"/>
<path d="M594.50,1195.65V1205.15M590.12,1197.87L598.88,1202.93M590.12,1202.93L598.88,1197.87" stroke="#000" stroke-width="2.7" stroke-linecap="round" fill="none"/>
<path d="M544.55,1238.25V1247.75M540.17,1240.47L548.93,1245.53M540.17,1245.53L548.93,1240.47" stroke="#000" stroke-width="2.7" stroke-linecap="round" fill="none"/>
<path d="M557.65,1238.25V1247.75M553.27,1240.47L562.03,1245.53M553.27,1245.53L562.03,1240.47" stroke="#000" stroke-width="2.7" stroke-linecap="round" fill="none"/>
<path d="M515.90,1284.95V1294.45M511.52,1287.17L520.28,1292.23M511.52,1292.23L520.28,1287.17" stroke="#000" stroke-width="2.7" stroke-linecap="round" fill="none"/>
<text x="630.55" y="1292.70" font-size="18.1" font-weight="normal" text-anchor="middle" >ns</text>
<text x="0" y="0" font-size="44.3" font-weight="bold" fill="#222" stroke="#222" stroke-width="0.8" transform="translate(444.69,1255.70) scale(0.97,1)">H</text>
<text x="0.00" y="0.00" font-size="17.3" font-weight="bold" text-anchor="middle" transform="translate(398.00,1385.40) rotate(-90) scale(1,1.05)">Relative Transcript Level</text>
<text x="0.00" y="0.00" font-size="17.3" font-weight="bold" text-anchor="middle" transform="translate(419.50,1385.40) rotate(-90) scale(1,1.05)">(ABL1/GAPDH and TUB)</text>
<text x="0" y="0" font-size="16" font-weight="bold" text-anchor="middle" transform="translate(515.80,1520.30) scale(1.06,1)">- HA</text>
<text x="0" y="0" font-size="16" font-weight="bold" text-anchor="middle" transform="translate(629.80,1520.30) scale(1.06,1)">+ HA</text>
<rect x="282.6" y="7.9" width="41.5" height="24.2" fill="#000"/>
<rect x="285.0" y="48.8" width="36.7" height="19.5" fill="#9e9e9e" stroke="#000" stroke-width="4.8"/>
<text x="342.50" y="30.00" font-size="27.5" font-weight="normal" text-anchor="start" >Col-0</text>
<text x="343.80" y="68.30" font-size="27.5" font-weight="normal" text-anchor="start" >TOROE</text>
</svg></body></html>
